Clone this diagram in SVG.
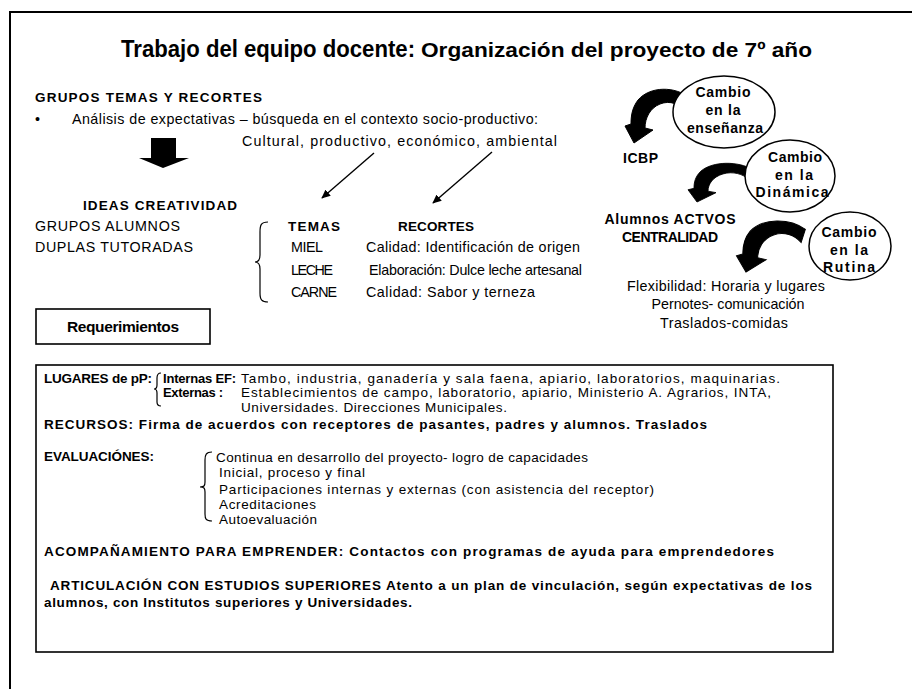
<svg xmlns="http://www.w3.org/2000/svg" width="912" height="689" viewBox="0 0 912 689">
<defs>
<style>
text{font-family:"Liberation Sans",Arial,sans-serif;fill:#000;}
.r{font-size:14.3px;}
.b{font-size:13.5px;font-weight:bold;}
.c{font-size:14px;font-weight:bold;text-anchor:middle;}
.m{text-anchor:middle;}
.box{fill:#fff;stroke:#000;stroke-width:1.6;}
.brace{fill:none;stroke:#000;stroke-width:1.2;}
.ln{stroke:#000;stroke-width:1.4;fill:none;}
.carrow{fill:#000;stroke:#000;stroke-width:1;}
.ell{fill:#fff;stroke:#000;stroke-width:1.5;}
</style>
<marker id="ah" viewBox="0 0 10 10" refX="9" refY="5" markerWidth="9" markerHeight="9" orient="auto" markerUnits="userSpaceOnUse">
<path d="M0,0.5 L10,5 L0,9.5 Z" fill="#000"/>
</marker>
<path id="carr" d="M56,-45 C41,-57 16,-57 4,-43 C-2,-35 -3,-27 -3,-19 L-9,-17 L0,0 L19,-13 L11,-15 C11,-25 16,-35 26,-39 C36,-43 46,-39 52,-31 Z"/>
</defs>

<rect id="frame" x="10" y="12" width="930" height="700" fill="#fff" stroke="#000" stroke-width="2"/>

<g id="title">
<text x="121" y="57" style="font-size:24px;font-weight:bold" textLength="294" lengthAdjust="spacingAndGlyphs">Trabajo del equipo docente:</text>
<text x="421" y="57" style="font-size:20px;font-weight:bold" textLength="391" lengthAdjust="spacingAndGlyphs">Organización del proyecto de 7º año</text>
</g>

<g id="grupos">
<text class="b" x="35" y="102" textLength="227" lengthAdjust="spacing">GRUPOS TEMAS Y RECORTES</text>
<text class="r" x="35" y="124">•</text>
<text class="r" x="72" y="124" textLength="466" lengthAdjust="spacing">Análisis de expectativas – búsqueda en el contexto socio-productivo:</text>
<text class="r" x="242" y="146" textLength="315" lengthAdjust="spacing">Cultural, productivo, económico, ambiental</text>
</g>

<g id="bigarrow">
<path d="M151,138 L176,138 L176,158 L189,158 L163,168 L139,158 L151,158 Z" fill="#000"/>
</g>

<g id="ideas">
<text class="b" x="83" y="210" textLength="154" lengthAdjust="spacing">IDEAS CREATIVIDAD</text>
<text class="r" x="35" y="231" textLength="145" lengthAdjust="spacing">GRUPOS ALUMNOS</text>
<text class="r" x="35" y="252" textLength="158" lengthAdjust="spacing">DUPLAS TUTORADAS</text>
</g>

<g id="temas">
<path class="brace" d="M268,222 C261,222 260,225 260,232 L260,255 C260,260 258,262 255,262 C258,262 260,264 260,269 L260,293 C260,300 262,302 268,302"/>
<text class="b" x="288" y="231" textLength="52" lengthAdjust="spacing">TEMAS</text>
<text class="b" x="398" y="231" textLength="76" lengthAdjust="spacing">RECORTES</text>
<text class="r" x="291" y="252" textLength="32" lengthAdjust="spacing">MIEL</text>
<text class="r" x="366" y="252" textLength="214" lengthAdjust="spacing">Calidad: Identificación de origen</text>
<text class="r" x="291" y="275" textLength="42" lengthAdjust="spacing">LECHE</text>
<text class="r" x="369" y="275" textLength="213" lengthAdjust="spacing">Elaboración: Dulce leche artesanal</text>
<text class="r" x="291" y="297" textLength="46" lengthAdjust="spacing">CARNE</text>
<text class="r" x="366" y="297" textLength="169" lengthAdjust="spacing">Calidad: Sabor y terneza</text>
</g>

<g id="requerimientos">
<rect class="box" x="36" y="309" width="174" height="35"/>
<text x="123" y="332" class="m" style="font-size:15.5px;font-weight:bold" textLength="112" lengthAdjust="spacing">Requerimientos</text>
</g>

<g id="detalle">
<rect class="box" x="36" y="365" width="797" height="287" stroke-width="2"/>
<text class="b" x="44" y="383" textLength="108" lengthAdjust="spacing">LUGARES de pP:</text>
<path class="brace" d="M161,373 C158,373 157,375 157,378 L157,385 C157,388 156,389 154,389 C156,389 157,390 157,393 L157,402 C157,405 158,406 161,406"/>
<text class="b" x="163" y="383" style="font-size:13px" textLength="73" lengthAdjust="spacing">Internas EF:</text>
<text class="r" x="241" y="383" style="font-size:13.5px" textLength="539" lengthAdjust="spacing">Tambo, industria, ganadería y sala faena, apiario, laboratorios, maquinarias.</text>
<text class="b" x="163" y="397" style="font-size:13px" textLength="60" lengthAdjust="spacing">Externas :</text>
<text class="r" x="241" y="397" style="font-size:13.5px" textLength="530" lengthAdjust="spacing">Establecimientos de campo, laboratorio, apiario, Ministerio A. Agrarios, INTA,</text>
<text class="r" x="241" y="412" style="font-size:13.5px" textLength="266" lengthAdjust="spacing">Universidades. Direcciones Municipales.</text>
<text class="b" x="44" y="429" textLength="663" lengthAdjust="spacing">RECURSOS: Firma de acuerdos con receptores de pasantes, padres y alumnos. Traslados</text>
<text class="b" x="44" y="461" textLength="110" lengthAdjust="spacing">EVALUACIÓNES:</text>
<path class="brace" d="M212,452 C206,452 205,455 205,460 L205,482 C205,486 204,487 200,487 C204,487 205,488 205,492 L205,514 C205,519 206,521 212,521"/>
<text class="r" x="216" y="462" style="font-size:13.5px" textLength="372" lengthAdjust="spacing">Continua en desarrollo del proyecto- logro de capacidades</text>
<text class="r" x="219" y="477" style="font-size:13.5px" textLength="146" lengthAdjust="spacing">Inicial, proceso y final</text>
<text class="r" x="219" y="494" style="font-size:13.5px" textLength="435" lengthAdjust="spacing">Participaciones internas y externas (con asistencia del receptor)</text>
<text class="r" x="219" y="509" style="font-size:13.5px" textLength="97" lengthAdjust="spacing">Acreditaciones</text>
<text class="r" x="219" y="524" style="font-size:13.5px" textLength="98" lengthAdjust="spacing">Autoevaluación</text>
<text class="b" x="44" y="556" textLength="730" lengthAdjust="spacing">ACOMPAÑAMIENTO PARA EMPRENDER: Contactos con programas de ayuda para emprendedores</text>
<text class="b" x="50" y="590" textLength="762" lengthAdjust="spacing">ARTICULACIÓN CON ESTUDIOS SUPERIORES  Atento a un plan de vinculación, según expectativas de los</text>
<text class="b" x="44" y="607" textLength="368" lengthAdjust="spacing">alumnos, con Institutos superiores y Universidades.</text>
</g>

<g id="connectors">
<line class="ln" x1="374" y1="153" x2="322" y2="198" marker-end="url(#ah)"/>
<line class="ln" x1="492" y1="152" x2="433" y2="203" marker-end="url(#ah)"/>
<use href="#carr" class="carrow" transform="translate(634,143)"/>
<use href="#carr" class="carrow" transform="translate(697,202) scale(1,0.72)"/>
<use href="#carr" class="carrow" transform="translate(746,272) scale(1.06,0.95)"/>
</g>

<g id="cambio-ensenanza">
<ellipse class="ell" cx="724" cy="112" rx="51" ry="36"/>
<text class="c" x="723" y="97" textLength="55" lengthAdjust="spacing">Cambio</text>
<text class="c" x="723" y="115" textLength="35" lengthAdjust="spacing">en la</text>
<text class="c" x="725" y="133" textLength="76" lengthAdjust="spacing">enseñanza</text>
</g>

<g id="cambio-dinamica">
<ellipse class="ell" cx="790" cy="176" rx="45" ry="36"/>
<text class="c" x="795" y="162" textLength="54" lengthAdjust="spacing">Cambio</text>
<text class="c" x="794" y="180" textLength="38" lengthAdjust="spacing">en la</text>
<text class="c" x="792" y="197" textLength="73" lengthAdjust="spacing">Dinámica</text>
</g>

<g id="cambio-rutina">
<ellipse class="ell" cx="850" cy="246" rx="41" ry="34"/>
<text class="c" x="849" y="237" textLength="55" lengthAdjust="spacing">Cambio</text>
<text class="c" x="849" y="255" textLength="38" lengthAdjust="spacing">en la</text>
<text class="c" x="849" y="272" textLength="52" lengthAdjust="spacing">Rutina</text>
</g>

<g id="icbp">
<text class="b" x="623" y="163" style="font-size:14px" textLength="35" lengthAdjust="spacing">ICBP</text>
</g>

<g id="alumnos">
<text class="c" x="670" y="224" textLength="131" lengthAdjust="spacing">Alumnos ACTVOS</text>
<text class="c" x="670" y="242" textLength="96" lengthAdjust="spacing">CENTRALIDAD</text>
</g>

<g id="flexibilidad">
<text class="r m" x="726" y="291" textLength="198" lengthAdjust="spacing">Flexibilidad: Horaria y lugares</text>
<text class="r m" x="728" y="309" textLength="153" lengthAdjust="spacing">Pernotes- comunicación</text>
<text class="r m" x="724" y="328" textLength="128" lengthAdjust="spacing">Traslados-comidas</text>
</g>
</svg>
